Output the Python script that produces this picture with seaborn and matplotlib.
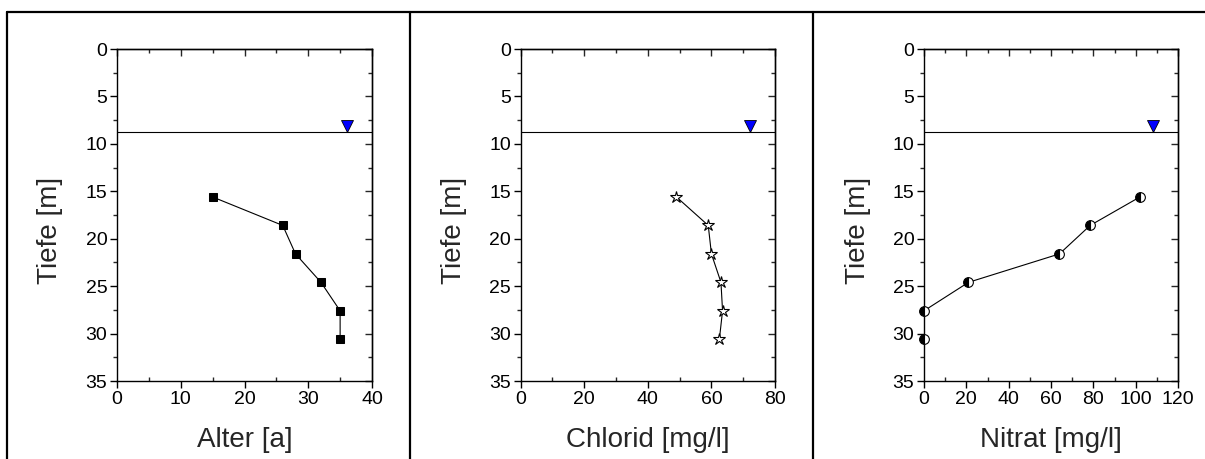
import matplotlib
matplotlib.use("Agg")
import matplotlib.pyplot as plt
from matplotlib.lines import Line2D
from matplotlib.ticker import MultipleLocator
import seaborn as sns
import numpy as np

# ---- data ----
depth = [15.6, 18.6, 21.6, 24.6, 27.6, 30.6]
alter = [15, 26, 28, 32, 35, 35]
chlorid = [49, 59, 60, 63, 63.5, 62.5]
nitrat = [102, 78.5, 64, 21, 0, 0]
nitrat_connected = 5  # first five samples joined by a line

water_level = 8.8
marker_depth = 8.1
marker_x = [36, 72, 108]

xlabels = ["Alter [a]", "Chlorid [mg/l]", "Nitrat [mg/l]"]
ylabel = "Tiefe [m]"
xmax = [40, 80, 120]
xmajor = [10, 20, 20]
xminor = [5, 10, 10]

sns.set_theme(style="ticks")
plt.rcParams["font.family"] = ["Liberation Sans", "DejaVu Sans"]

fig = plt.figure(figsize=(12.05, 4.59), dpi=100)
W, H = 1205, 459
lefts = [117, 520.7, 924]
widths = [255, 254.3, 254]
top_px, bot_px = 49, 381

axes = []
for i in range(3):
    ax = fig.add_axes([lefts[i] / W, 1 - bot_px / H, widths[i] / W, (bot_px - top_px) / H])
    axes.append(ax)

def style_axis(ax, i):
    ax.set_xlim(0, xmax[i])
    ax.set_ylim(35, 0)
    for s in ax.spines.values():
        s.set_linewidth(1.0)
        s.set_color("black")
    ax.xaxis.set_major_locator(MultipleLocator(xmajor[i]))
    ax.xaxis.set_minor_locator(MultipleLocator(xminor[i]))
    ax.yaxis.set_major_locator(MultipleLocator(5))
    ax.yaxis.set_minor_locator(MultipleLocator(2.5))
    ax.tick_params(axis="both", which="major", direction="out", length=5, width=1,
                   labelsize=14, colors="black", pad=2)
    ax.tick_params(axis="y", which="minor", direction="out", length=3, width=1)
    ax.tick_params(axis="x", which="minor", direction="in", length=3, width=1)
    # mirrored inward ticks on top and right
    sx = ax.secondary_xaxis("top")
    sx.xaxis.set_major_locator(MultipleLocator(xmajor[i]))
    sx.xaxis.set_minor_locator(MultipleLocator(xminor[i]))
    sx.tick_params(which="major", direction="in", length=5, width=1, labeltop=False)
    sx.tick_params(which="minor", direction="in", length=3, width=1)
    sx.spines["top"].set_linewidth(1.0)
    sy = ax.secondary_yaxis("right")
    sy.yaxis.set_major_locator(MultipleLocator(5))
    sy.yaxis.set_minor_locator(MultipleLocator(2.5))
    sy.tick_params(which="major", direction="in", length=5, width=1, labelright=False)
    sy.tick_params(which="minor", direction="in", length=3, width=1)
    sy.spines["right"].set_linewidth(1.0)
    ax.set_xlabel(xlabels[i], fontsize=20, labelpad=14)
    ax.set_ylabel(ylabel, fontsize=20)
    ax.yaxis.set_label_coords(-0.21, 0.455)
    ax.axhline(water_level, color="black", lw=0.8, zorder=2)
    ax.plot([marker_x[i]], [marker_depth], marker="v", ms=8, mfc="#0000ff",
            mec="black", mew=0.6, ls="none", zorder=5, clip_on=False)

# Alter
sns.lineplot(x=alter, y=depth, ax=axes[0], estimator=None, sort=False, color="black",
             lw=0.8, marker="s", markersize=5.5, markerfacecolor="black",
             markeredgecolor="black", zorder=4)
# Chlorid
sns.lineplot(x=chlorid, y=depth, ax=axes[1], estimator=None, sort=False, color="black",
             lw=0.8, marker="*", markersize=9, markerfacecolor="white",
             markeredgecolor="black", markeredgewidth=0.8, zorder=4)
# Nitrat
sns.lineplot(x=nitrat[:nitrat_connected], y=depth[:nitrat_connected], ax=axes[2],
             estimator=None, sort=False, color="black", lw=0.8, marker="o",
             markersize=7, markerfacecolor="black", markerfacecoloralt="white",
             fillstyle="left", markeredgecolor="black", markeredgewidth=0.8,
             zorder=4, clip_on=False)
sns.lineplot(x=nitrat[nitrat_connected:], y=depth[nitrat_connected:], ax=axes[2],
             estimator=None, sort=False, color="black", lw=0, marker="o",
             markersize=7, markerfacecolor="black", markerfacecoloralt="white",
             fillstyle="left", markeredgecolor="black", markeredgewidth=0.8,
             zorder=4, clip_on=False)

for i, ax in enumerate(axes):
    style_axis(ax, i)

# frame lines
lw_frame = 1.6
fig.add_artist(Line2D([7 / W, 1.0], [1 - 11.5 / H, 1 - 11.5 / H], color="black", lw=lw_frame))
for xp in [7, 410, 812.5]:
    fig.add_artist(Line2D([xp / W, xp / W], [0, 1 - 11.5 / H], color="black", lw=lw_frame))

fig.savefig("out.png", dpi=100)
